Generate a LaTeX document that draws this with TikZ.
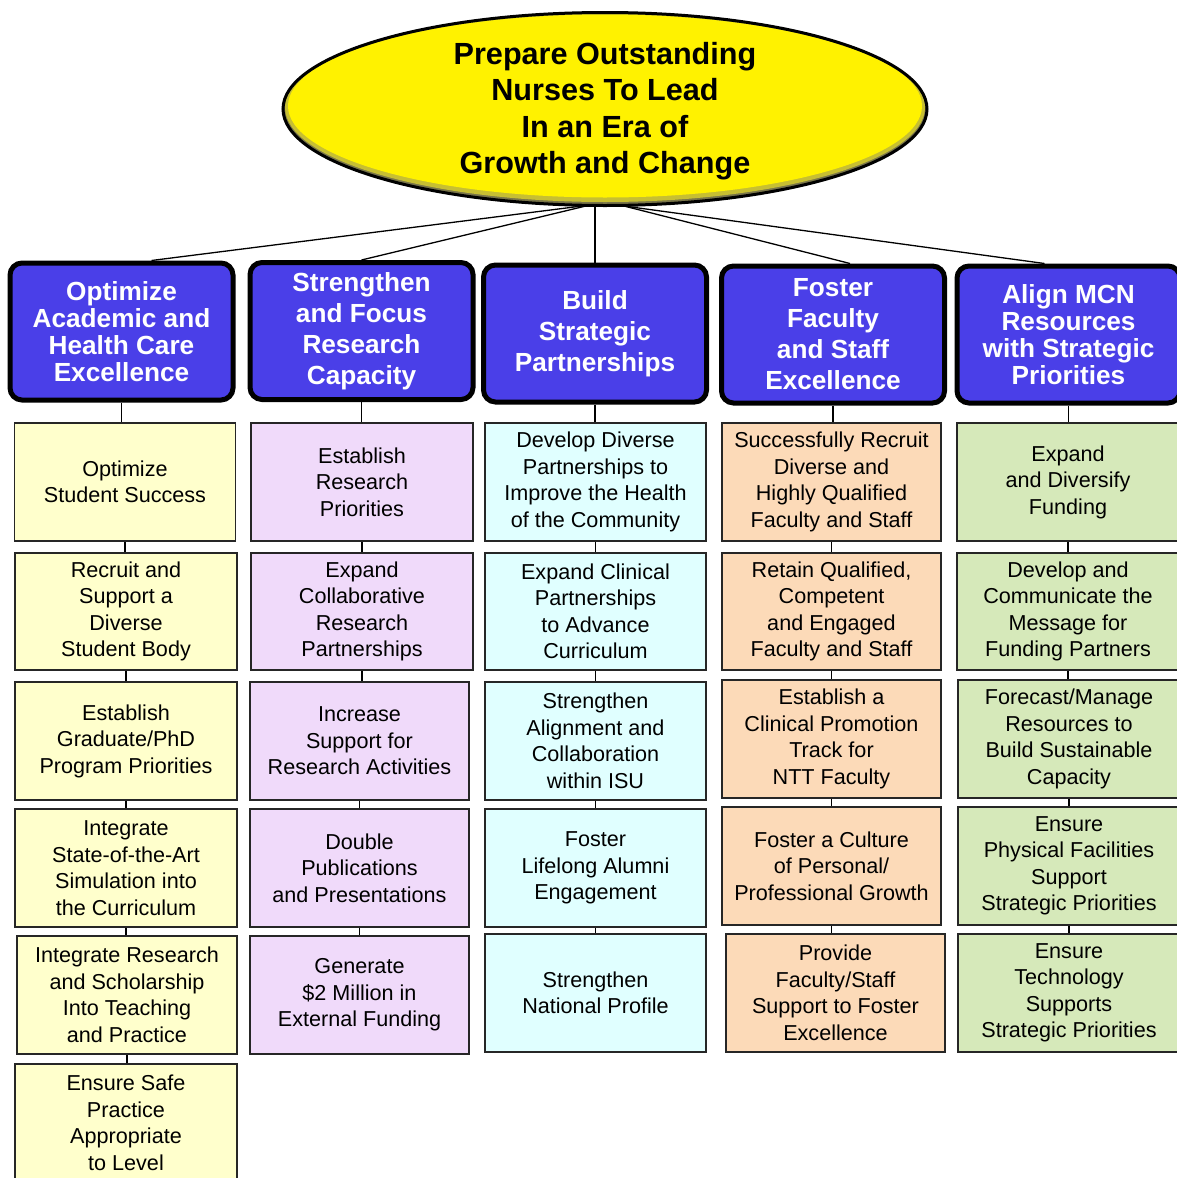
\documentclass[tikz,border=0pt]{standalone}
\usepackage{fontspec}
\setmainfont{Liberation Sans}
\usetikzlibrary{shapes.geometric,calc,backgrounds}
\definecolor{hdrblue}{RGB}{74,63,232}
\definecolor{cyel}{RGB}{255,255,204}
\definecolor{clav}{RGB}{240,218,250}
\definecolor{ccyan}{RGB}{224,255,255}
\definecolor{cpeach}{RGB}{252,218,184}
\definecolor{cgreen}{RGB}{214,233,186}
\begin{document}
\begin{tikzpicture}[x=1pt,y=-1pt,
  hdr/.style={draw=black, line width=5pt, rounded corners=12pt, fill=hdrblue, text=white,
    font=\bfseries\fontsize{26.2}{27}\selectfont, align=center, inner sep=0pt,
    minimum width=223pt, minimum height=137pt},
  hdrwide/.style={hdr, font=\bfseries\fontsize{26.2}{31}\selectfont},
  cbox/.style={draw=black!85, line width=1.5pt, font=\fontsize{21.6}{26.5}\selectfont,
    align=center, inner sep=0pt, minimum width=221pt, minimum height=118pt},
  conn/.style={draw=black, line width=1.3pt}]
\useasboundingbox (0,0) rectangle (1176,1178);

% top ellipse with bevel shading
\fill[yellow!40!black] (605,109) ellipse (322 and 96.5);
\fill[yellow!75!black] (605,107.5) ellipse (320 and 94.5);
\fill[yellow] (605,106) ellipse (317 and 91.5);
\node[ellipse, draw=black, line width=3pt, minimum width=644pt, minimum height=193pt,
  inner sep=0pt] (top) at (605,109) {};
\node[align=center, inner sep=0pt, font=\bfseries\fontsize{30.6}{36.5}\selectfont] (toptext) at (605,111)
  {Prepare Outstanding\\Nurses To Lead\\In an Era of\\Growth and Change};

% headers
\node[hdr] (h1) at (121.5,331.5) {Optimize\\Academic and\\Health Care\\Excellence};
\node[hdrwide] (h2) at (361.5,331) {Strengthen\\and Focus\\Research\\Capacity};
\node[hdrwide] (h3) at (595,333.5) {Build\\Strategic\\Partnerships};
\node[hdrwide] (h4) at (833,334.5) {Foster\\Faculty\\and Staff\\Excellence};
\node[hdr] (h5) at (1068.5,334.5) {Align MCN\\Resources\\with Strategic\\Priorities};

% column 1
\node[cbox, fill=cyel, minimum width=221pt] (a1) at (125,482) {Optimize\\Student Success};
\node[cbox, fill=cyel, minimum width=222pt, minimum height=117pt] (a2) at (126,611.5) {Recruit and\\Support a\\Diverse\\Student Body};
\node[cbox, fill=cyel, minimum width=222pt] (a3) at (126,741) {Establish\\Graduate/PhD\\Program Priorities};
\node[cbox, fill=cyel, minimum width=222pt] (a4) at (126,868) {Integrate\\State-of-the-Art\\Simulation into\\the Curriculum};
\node[cbox, fill=cyel, minimum width=220pt] (a5) at (127,995) {Integrate Research\\and Scholarship\\Into Teaching\\and Practice};
\node[cbox, fill=cyel, minimum width=222pt] (a6) at (126,1123) {Ensure Safe\\Practice\\Appropriate\\to Level};

% column 2
\node[cbox, fill=clav, minimum width=222pt] (b1) at (362,482) {Establish\\Research\\Priorities};
\node[cbox, fill=clav, minimum width=222pt, minimum height=117pt] (b2) at (362,611.5) {Expand\\Collaborative\\Research\\Partnerships};
\node[cbox, fill=clav, minimum width=219pt] (b3) at (359.5,741) {Increase\\Support for\\Research Activities};
\node[cbox, fill=clav, minimum width=219pt] (b4) at (359.5,868) {Double\\Publications\\and Presentations};
\node[cbox, fill=clav, minimum width=219pt] (b5) at (359.5,995) {Generate\\\$2 Million in\\External Funding};

% column 3
\node[cbox, fill=ccyan] (c1) at (595.5,482) {Develop Diverse\\Partnerships to\\Improve the Health\\of the Community};
\node[cbox, fill=ccyan, minimum height=117pt] (c2) at (595.5,611.5) {Expand Clinical\\Partnerships\\to Advance\\Curriculum};
\node[cbox, fill=ccyan] (c3) at (595.5,741) {Strengthen\\Alignment and\\Collaboration\\within ISU};
\node[cbox, fill=ccyan] (c4) at (595.5,868) {Foster\\Lifelong Alumni\\Engagement};
\node[cbox, fill=ccyan] (c5) at (595.5,993) {Strengthen\\National Profile};

% column 4
\node[cbox, fill=cpeach, minimum width=219pt] (d1) at (831.5,482) {Successfully Recruit\\Diverse and\\Highly Qualified\\Faculty and Staff};
\node[cbox, fill=cpeach, minimum width=219pt, minimum height=117pt] (d2) at (831.5,611.5) {Retain Qualified,\\Competent\\and Engaged\\Faculty and Staff};
\node[cbox, fill=cpeach, minimum width=219pt] (d3) at (831.5,739) {Establish a\\Clinical Promotion\\Track for\\NTT Faculty};
\node[cbox, fill=cpeach, minimum width=219pt] (d4) at (831.5,866) {Foster a Culture\\of Personal/\\Professional Growth};
\node[cbox, fill=cpeach, minimum width=219pt] (d5) at (835.5,993) {Provide\\Faculty/Staff\\Support to Foster\\Excellence};

% column 5
\node[cbox, fill=cgreen, minimum width=222pt] (e1) at (1068,482) {Expand\\and Diversify\\Funding};
\node[cbox, fill=cgreen, minimum width=222pt, minimum height=117pt] (e2) at (1068,611.5) {Develop and\\Communicate the\\Message for\\Funding Partners};
\node[cbox, fill=cgreen, minimum width=222pt] (e3) at (1069,739) {Forecast/Manage\\Resources to\\Build Sustainable\\Capacity};
\node[cbox, fill=cgreen, minimum width=222pt] (e4) at (1069,866) {Ensure\\Physical Facilities\\Support\\Strategic Priorities};
\node[cbox, fill=cgreen, minimum width=222pt] (e5) at (1069,993) {Ensure\\Technology\\Supports\\Strategic Priorities};

\coordinate (fl) at (590,205);
\coordinate (fr) at (624,206);

\begin{scope}[on background layer]
  % fan from the goal ellipse
  \draw[conn] (fl) -- ($(h1.north)+(30,0)$);
  \draw[conn] (fl) -- (h2.north);
  \draw[conn] (top.south -| h3.north) -- (h3.north);
  \draw[conn] (fr) -- ($(h4.north)+(17,0)$);
  \draw[conn] (fr) -- ($(h5.north)+(-24,0)$);
  % headers to first row
  \foreach \h/\c in {h1/a1,h2/b1,h3/c1,h4/d1,h5/e1}
    \draw[conn] (\h.south) -- (\h.south |- \c.north);
  % row to row
  \foreach \u/\v in {a1/a2,a2/a3,a3/a4,a4/a5,a5/a6,
                     b1/b2,b2/b3,b3/b4,b4/b5,
                     c1/c2,c2/c3,c3/c4,c4/c5,
                     d1/d2,d2/d3,d3/d4,d4/d5,
                     e1/e2,e2/e3,e3/e4,e4/e5}
    \draw[conn] (\u.south) -- (\u.south |- \v.north);
\end{scope}
\end{tikzpicture}
\end{document}
